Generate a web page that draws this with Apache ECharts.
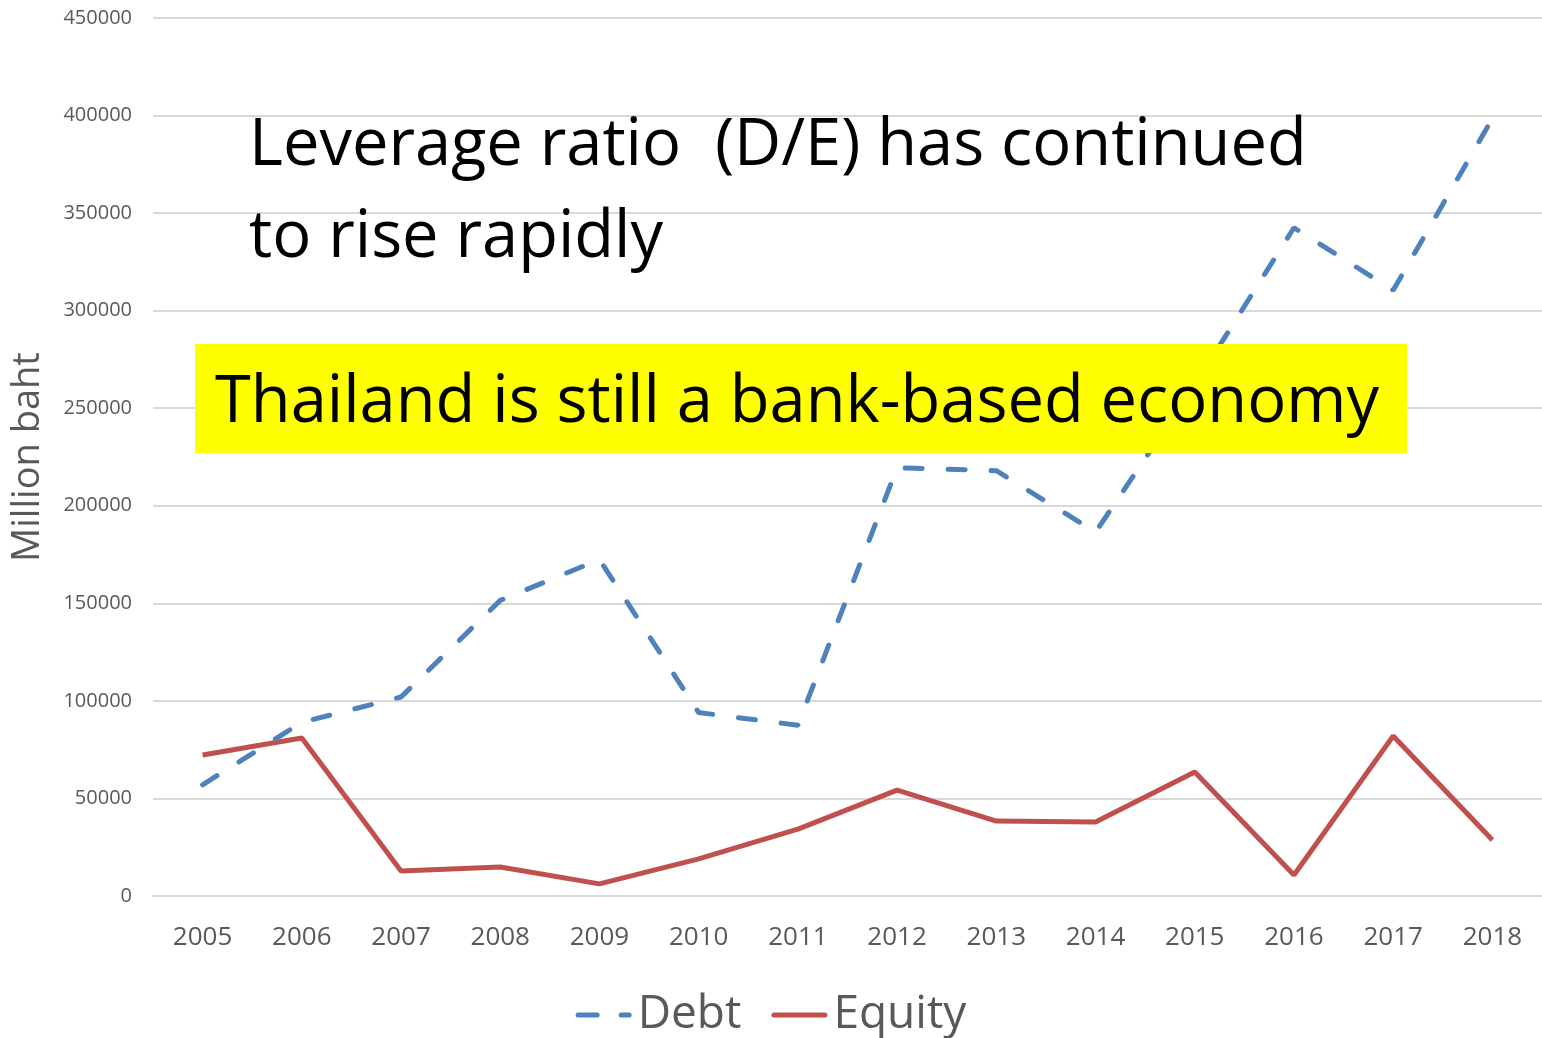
<!DOCTYPE html>
<html>
<head>
<meta charset="utf-8">
<script src="https://cdn.jsdelivr.net/npm/echarts@6/dist/echarts.min.js"></script>
<style>
  html, body { margin: 0; padding: 0; background: #fff; }
  #chart { width: 1542px; height: 1038px; }
</style>
</head>
<body>
<div id="chart"></div>
<script>
// Years on the x axis
const years = ['2005','2006','2007','2008','2009','2010','2011','2012','2013','2014','2015','2016','2017','2018'];
// Debt financing, million baht
const debt = [57000, 89000, 102000, 151500, 172500, 94000, 87500, 219500, 218000, 186500, 262000, 342500, 310500, 398500];
// Equity financing, million baht
const equity = [72300, 81000, 12800, 14900, 6200, 19000, 34300, 54300, 38400, 37900, 63600, 10800, 82000, 28700];

const headline = 'Leverage ratio  (D/E) has continued\nto rise rapidly';
const banner = 'Thailand is still a bank-based economy';

const BLUE = '#4F81BD';
const RED = '#C0504D';
const font = 'Open Sans, Noto Sans, sans-serif';

// legend swatches: a broken stroke for Debt, a solid stroke for Equity
const dashIcon = 'path://M2.5,0H21.5A2.5,2.5,0,0,1,21.5,5H2.5A2.5,2.5,0,0,1,2.5,0Z' +
                 'M45.5,0H53.5A2.5,2.5,0,0,1,53.5,5H45.5A2.5,2.5,0,0,1,45.5,0Z';
const solidIcon = 'path://M2.5,0H53.5A2.5,2.5,0,0,1,53.5,5H2.5A2.5,2.5,0,0,1,2.5,0Z';

const chart = echarts.init(document.getElementById('chart'));
chart.setOption({
  animation: false,
  textStyle: { fontFamily: font },
  grid: { left: 153, right: 0, top: 18, bottom: 142, containLabel: false },
  legend: {
    top: 987,
    left: 'center',
    itemWidth: 56,
    itemHeight: 5,
    itemGap: 30,
    textStyle: { fontSize: 46, color: '#595959', fontFamily: font, padding: [0, 0, 0, 1] },
    data: [
      { name: 'Debt', icon: dashIcon, itemStyle: { color: BLUE } },
      { name: 'Equity', icon: solidIcon, itemStyle: { color: RED } }
    ]
  },
  xAxis: {
    type: 'category',
    data: years,
    boundaryGap: true,
    axisLine: { show: true, lineStyle: { color: '#d9d9d9', width: 2 } },
    axisTick: { show: false },
    axisLabel: { fontSize: 26, color: '#595959', margin: 29 }
  },
  yAxis: {
    type: 'value',
    min: 0,
    max: 450000,
    interval: 50000,
    name: 'Million baht',
    nameLocation: 'middle',
    nameGap: 106,
    nameRotate: 90,
    nameTextStyle: { fontSize: 38, color: '#595959' },
    axisLine: { show: false },
    axisTick: { show: false },
    axisLabel: { fontSize: 20, color: '#595959', margin: 21, formatter: v => String(v) },
    splitLine: { lineStyle: { color: '#d9d9d9', width: 2 } }
  },
  series: [
    {
      name: 'Debt',
      type: 'line',
      data: debt,
      showSymbol: false,
      symbol: 'none',
      color: BLUE,
      lineStyle: { color: BLUE, width: 5, type: [17, 26], cap: 'round' },
      z: 3
    },
    {
      name: 'Equity',
      type: 'line',
      data: equity,
      showSymbol: false,
      symbol: 'none',
      color: RED,
      lineStyle: { color: RED, width: 5 },
      z: 2
    }
  ],
  graphic: [
    {
      type: 'text',
      left: 249,
      top: 100,
      z: 100,
      style: {
        text: headline,
        fill: '#000',
        font: '65px ' + font,
        lineHeight: 92
      }
    },
    {
      type: 'rect',
      left: 195,
      top: 344,
      z: 100,
      shape: { x: 0, y: 0, width: 1212, height: 109 },
      style: { fill: '#ffff00' }
    },
    {
      type: 'text',
      left: 215,
      top: 371,
      z: 101,
      style: {
        text: banner,
        fill: '#000',
        font: '65px ' + font
      }
    }
  ]
});
</script>
</body>
</html>
